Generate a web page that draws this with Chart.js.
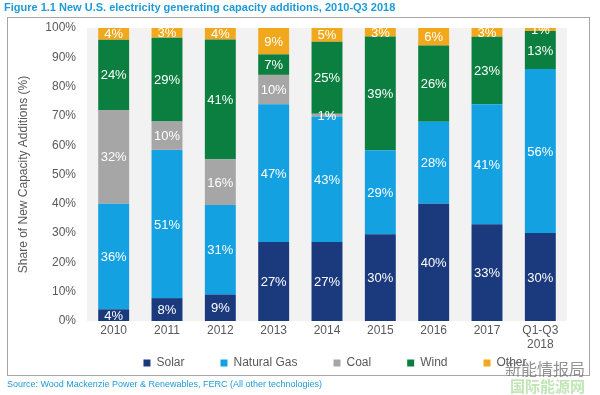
<!DOCTYPE html>
<html>
<head>
<meta charset="utf-8">
<script src="https://cdn.jsdelivr.net/npm/chart.js@4"></script>
<style>
  html,body{margin:0;padding:0;background:#fff;}
  #wrap{position:relative;width:600px;height:395px;overflow:hidden;font-family:"Liberation Sans",Arial,sans-serif;}
  #title{position:absolute;left:4px;top:1px;font-size:11px;font-weight:bold;color:#1e9bd7;white-space:nowrap;}
  #box{position:absolute;left:7px;top:17px;width:583px;height:359px;border:1px solid #a6a6a6;box-sizing:border-box;}
  #source{position:absolute;left:7px;top:379px;font-size:9px;color:#1e9bd7;white-space:nowrap;}
  #wm1{position:absolute;left:505px;top:356px;font-size:16px;color:rgba(110,110,110,0.75);font-family:"Noto Sans CJK SC",sans-serif;}
  #wm2{position:absolute;left:510px;top:375px;font-size:15px;font-weight:bold;color:rgba(140,210,120,0.55);font-family:"Noto Sans CJK SC",sans-serif;}
  canvas{position:absolute;left:0;top:0;}
</style>
</head>
<body>
<div id="wrap">
  <div id="box"></div>
  <canvas id="c" width="600" height="395"></canvas>
  <div id="title">Figure 1.1 New U.S. electricity generating capacity additions, 2010-Q3 2018</div>
  <div id="source">Source: Wood Mackenzie Power &amp; Renewables, FERC (All other technologies)</div>
  <div id="wm1">新能情报局</div>
  <div id="wm2">国际能源网</div>
</div>
<script>
const categories = ["2010", "2011", "2012", "2013", "2014", "2015", "2016", "2017", ["Q1-Q3", "2018"]];
const solar      = [4,   7.8,  9.0,  27, 27.0, 29.6, 40, 33, 30];
const naturalGas = [36,  50.6, 30.6, 47, 42.8, 28.7, 28, 41, 56];
const coal       = [32,  9.7,  15.6, 10, 0.9,  0,    0,  0,  0];
const wind       = [24,  28.6, 40.9, 7,  24.6, 38.8, 26, 23, 13];
const other      = [4,   3.3,  3.9,  9,  4.7,  2.9,  6,  3,  1];
const yTicks     = [0, 10, 20, 30, 40, 50, 60, 70, 80, 90, 100];

const FONT = '"Liberation Sans", Arial, sans-serif';

const bgPlugin = {
  id: 'plotBg',
  afterLayout(chart) {
    // let the x tick labels extend into the blank top part of the legend box
    const x = chart.scales.x;
    x.bottom = x.top + 44;
    const lg = chart.legend;
    if (lg) { lg.left += 8; lg.right += 8; lg.top -= 4; lg.bottom -= 4; }
  },
  beforeDatasetsDraw(chart) {
    const a = chart.chartArea, ctx = chart.ctx;
    ctx.save();
    ctx.fillStyle = '#f2f2f2';
    ctx.fillRect(a.left, a.top, a.right - a.left, a.bottom - a.top);
    ctx.restore();
  }
};

const labelPlugin = {
  id: 'segLabels',
  afterDatasetsDraw(chart) {
    const ctx = chart.ctx;
    ctx.save();
    ctx.font = '13px ' + FONT;
    ctx.fillStyle = '#ffffff';
    ctx.textAlign = 'center';
    ctx.textBaseline = 'middle';
    chart.data.datasets.forEach((ds, di) => {
      const meta = chart.getDatasetMeta(di);
      meta.data.forEach((el, i) => {
        const v = ds.data[i];
        if (!(v >= 0.5)) return;
        const y = (el.y + el.base) / 2;
        ctx.fillText(Math.round(v) + '%', el.x, y + 1);
      });
    });
    ctx.restore();
  }
};

const mk = (label, data, color) => ({
  label, data, backgroundColor: color, borderWidth: 0,
  barPercentage: 0.58, categoryPercentage: 1.0
});

new Chart(document.getElementById('c'), {
  type: 'bar',
  data: {
    labels: categories,
    datasets: [
      mk('Solar', solar, '#1b3a7e'),
      mk('Natural Gas', naturalGas, '#13a1e2'),
      mk('Coal', coal, '#a6a6a6'),
      mk('Wind', wind, '#0b7f40'),
      mk('Other', other, '#f2a81d')
    ]
  },
  options: {
    responsive: false,
    animation: false,
    layout: { padding: { left: 10, right: 33, top: 28, bottom: 12 } },
    plugins: {
      tooltip: { enabled: false },
      legend: {
        position: 'bottom',
        fullSize: false,
        labels: {
          boxWidth: 7, boxHeight: 7, padding: 36,
          color: '#595959',
          font: { family: FONT, size: 12 }
        }
      }
    },
    scales: {
      x: {
        stacked: true,
        grid: { display: false, drawTicks: false },
        border: { display: false },
        ticks: { color: '#595959', font: { family: FONT, size: 12 }, padding: 2, maxRotation: 0, autoSkip: false },
        afterFit(s) { s.height = 4; }
      },
      y: {
        stacked: true,
        min: 0, max: 100,
        afterBuildTicks(s) { s.ticks = yTicks.map(v => ({ value: v })); },
        grid: { display: false, drawTicks: false },
        border: { display: false },
        ticks: { color: '#595959', font: { family: FONT, size: 12 }, padding: 11, callback: v => v + '%' },
        title: { display: true, text: 'Share of New Capacity Additions (%)', color: '#595959', font: { family: FONT, size: 12 }, padding: { top: 6, bottom: 0 } },
        afterFit(s) { s.width = 77; }
      }
    }
  },
  plugins: [bgPlugin, labelPlugin]
});
</script>
</body>
</html>
